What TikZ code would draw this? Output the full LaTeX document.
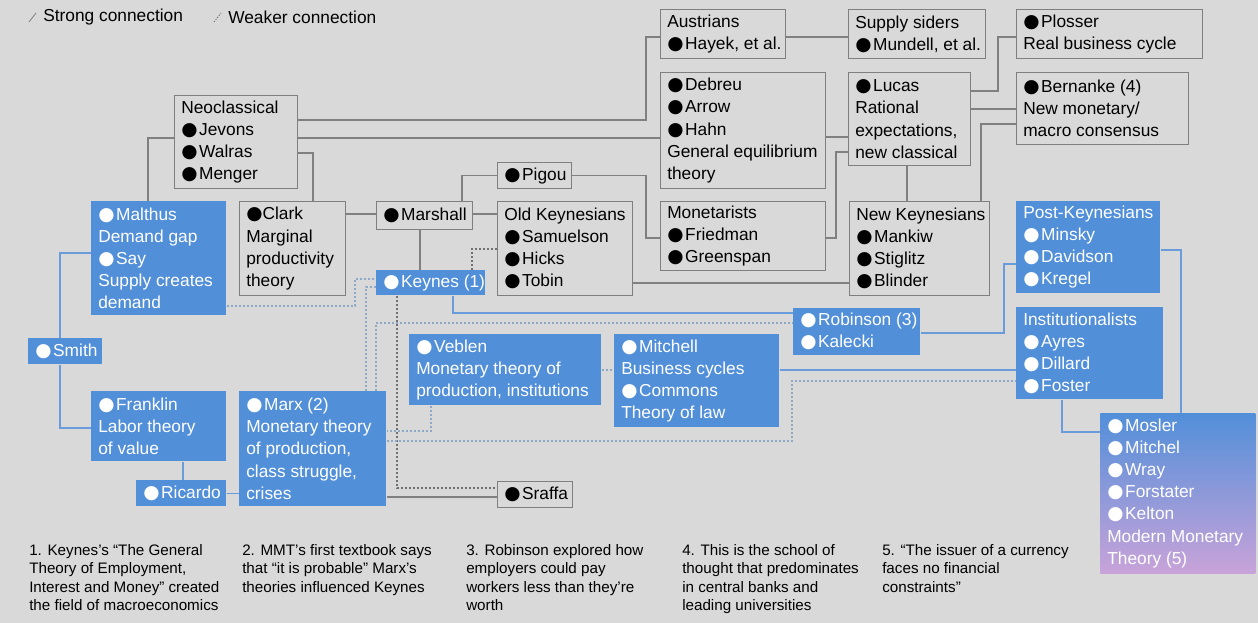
\documentclass[tikz,border=0pt]{standalone}
\usepackage{fontspec}
\setmainfont{Liberation Sans}
\newfontfamily\dvfont{DejaVu Sans}
\usetikzlibrary{backgrounds}
\definecolor{bg}{HTML}{D9D9D9}
\definecolor{bord}{HTML}{7F7F7F}
\definecolor{glc}{HTML}{808080}
\definecolor{bbox}{HTML}{528FD9}
\definecolor{bln}{HTML}{6A9BDA}
\definecolor{wbl}{HTML}{8EA8C8}
\definecolor{wgr}{HTML}{707070}
\definecolor{mtop}{HTML}{528FD9}
\definecolor{mbot}{HTML}{C8A3D9}
\newcommand\bulc{{\dvfont\fontsize{14}{0}\selectfont ●}}
\newcommand\bul{\bulc\hspace{1.2pt}}
\tikzset{
 gb/.style={draw=bord, line width=0.9pt, fill=bg, inner sep=0},
 bb/.style={fill=bbox, inner sep=0},
 mb/.style={top color=mtop, bottom color=mbot, inner sep=0},
 txt/.style={align=left, inner sep=0, font=\fontsize{13}{16.6}\selectfont},
 wtxt/.style={txt, text=white},
 strong/.style={draw=glc, line width=0.9pt},
 bluel/.style={draw=bln, line width=0.8pt},
 weakb/.style={draw=wbl, line width=0.8pt, dash pattern=on 1.5pt off 1.5pt},
 weakg/.style={draw=wgr, line width=0.8pt, dash pattern=on 1.5pt off 1.5pt},
 note/.style={align=left, inner sep=0, anchor=north west, font=\fontsize{11.4}{13.8}\selectfont},
}
\newcommand\gbx[6]{%
  \node[gb,minimum width={#4*0.75pt},minimum height={#5*0.75pt},anchor=north west] (#1) at (#2,#3) {};
  \node[txt,anchor=west] (#1t) at ([xshift=5.25pt]#1.west) {#6};}
\newcommand\bbx[6]{%
  \node[bb,minimum width={#4*0.75pt},minimum height={#5*0.75pt},anchor=north west] (#1) at (#2,#3) {};
  \node[wtxt,anchor=west] (#1t) at ([xshift=5.25pt]#1.west) {#6};}
\begin{document}
\begin{tikzpicture}[x=0.75pt,y=-0.75pt]
\useasboundingbox (0,0) rectangle (1258,623);
% boxes
\gbx{aus}{660}{9}{125}{49}{Austrians\\\bul Hayek, et al.}
\gbx{sup}{848}{9}{137}{49}{Supply siders\\\bul Mundell, et al.}
\gbx{plo}{1016}{9}{186}{49}{\bul Plosser\\Real business cycle}
\gbx{neo}{174}{95}{123}{93}{Neoclassical\\\bul Jevons\\\bul Walras\\\bul Menger}
\gbx{deb}{660}{72}{165}{116}{\bul Debreu\\\bul Arrow\\\bul Hahn\\General equilibrium\\theory}
\gbx{luc}{848}{72}{122}{93}{\bul Lucas\\Rational\\expectations,\\new classical}
\gbx{ber}{1016}{72}{172}{72}{\bul Bernanke (4)\\New monetary/\\macro consensus}
\gbx{pig}{497}{162}{74}{26}{\bul Pigou}
\gbx{mar}{376}{201}{96}{28}{\bul Marshall}
\gbx{old}{497}{201}{135}{94}{Old Keynesians\\\bul Samuelson\\\bul Hicks\\\bul Tobin}
\gbx{mon}{660}{201}{165}{69}{Monetarists\\\bul Friedman\\\bul Greenspan}
\gbx{nk}{849}{201}{140}{94}{New Keynesians\\\bul Mankiw\\\bul Stiglitz\\\bul Blinder}
\gbx{cla}{239}{201}{106}{94}{\bulc Clark\\Marginal\\productivity\\theory}
\bbx{mal}{91}{201}{135}{114}{\bul Malthus\\Demand gap\\\bul Say\\Supply creates\\demand}
\bbx{pk}{1016}{201}{144}{92}{Post-Keynesians\\\bul Minsky\\\bul Davidson\\\bul Kregel}
\bbx{key}{376}{270}{109}{25}{\bul Keynes (1)}
\bbx{smi}{28}{338}{74}{26}{\bul Smith}
\bbx{rob}{793}{308}{127}{47}{\bul Robinson (3)\\\bul Kalecki}
\bbx{ins}{1016}{307}{147}{92}{Institutionalists\\\bul Ayres\\\bul Dillard\\\bul Foster}
\bbx{veb}{409}{334}{192}{71}{\bul Veblen\\Monetary theory of\\production, institutions}
\bbx{mit}{614}{334}{165}{93}{\bul Mitchell\\Business cycles\\\bul Commons\\Theory of law}
\bbx{fra}{91}{391}{135}{70}{\bul Franklin\\Labor theory\\of value}
\bbx{marx}{239}{391}{147}{115}{\bul Marx (2)\\Monetary theory\\of production,\\class struggle,\\crises}
\bbx{ric}{136}{480}{90}{26}{\bul Ricardo}
\gbx{sra}{497}{481}{75}{26}{\bul Sraffa}
\node[mb,minimum width={155*0.75pt},minimum height={160*0.75pt},anchor=north west] (mmt) at (1100,413) {};
\node[wtxt,anchor=west] (mmtt) at ([xshift=5.25pt]mmt.west) {\bul Mosler\\\bul Mitchel\\\bul Wray\\\bul Forstater\\\bul Kelton\\Modern Monetary\\Theory (5)};
% legend and notes
\node[txt,anchor=west] (legs) at (43,17) {Strong connection};
\node[txt,anchor=west] (legw) at (228,17) {Weaker connection};
\node[note] (fn1) at (29,544) {1. Keynes’s “The General\\Theory of Employment,\\Interest and Money” created\\the field of macroeconomics};
\node[note] (fn2) at (242,544) {2. MMT’s first textbook says\\that “it is probable” Marx’s\\theories influenced Keynes};
\node[note] (fn3) at (466,544) {3. Robinson explored how\\employers could pay\\workers less than they’re\\worth};
\node[note] (fn4) at (682,544) {4. This is the school of\\thought that predominates\\in central banks and\\leading universities};
\node[note] (fn5) at (882,544) {5. “The issuer of a currency\\faces no financial\\constraints”};
\begin{scope}[on background layer]
\fill[bg] (0,0) rectangle (1258,623);
\draw[glc, line width=0.6pt] (29,22) -- (36,13);
\draw[wgr, line width=0.6pt, dash pattern=on 1pt off 1pt] (214,22) -- (221,13);
% strong gray
\draw[strong] (neo.west |- 0,138) -| (mal.north -| 148,0);
\draw[strong] (neo.east |- 0,120) -| (646,37) -- (aus.west |- 0,37);
\draw[strong] (neo.east |- 0,138) -- (deb.west |- 0,138);
\draw[strong] (neo.east |- 0,153) -| (cla.north -| 313,0);
\draw[strong] (cla.east |- 0,214) -- (mar.west |- 0,214);
\draw[strong] (mar.north -| 462,0) |- (pig.west);
\draw[strong] (pig.east) -| (646,238) -- (mon.west |- 0,238);
\draw[strong] (mar.east |- 0,214) -- (old.west |- 0,214);
\draw[strong] (mar.south -| 420,0) -- (key.north -| 420,0);
\draw[strong] (old.east |- 0,283) -- (nk.west |- 0,283);
\draw[strong] (deb.east |- 0,137) -- (luc.west |- 0,137);
\draw[strong] (mon.east |- 0,238) -| (836,152) -- (luc.west |- 0,152);
\draw[strong] (luc.south -| 907,0) -- (nk.north -| 907,0);
\draw[strong] (luc.east |- 0,91) -| (998,37) -- (plo.west |- 0,37);
\draw[strong] (aus.east |- 0,37) -- (sup.west |- 0,37);
\draw[strong] (luc.east |- 0,109) -- (ber.west |- 0,109);
\draw[strong] (ber.west |- 0,124) -| (nk.north -| 981,0);
\draw[strong] (marx.east |- 0,497) -- (sra.west |- 0,497);
% strong blue
\draw[bluel] (mal.west |- 0,253) -| (smi.north -| 60,0);
\draw[bluel] (smi.south -| 60,0) |- (fra.west |- 0,428);
\draw[bluel] (fra.south -| 183,0) -- (ric.north -| 183,0);
\draw[bluel] (ric.east) -- (marx.west |- ric.east);
\draw[bluel] (key.south -| 453,0) |- (rob.west |- 0,313);
\draw[bluel] (rob.east |- 0,333) -| (1004,264) -- (pk.west |- 0,264);
\draw[bluel] (mit.east |- 0,370) -- (ins.west |- 0,370);
\draw[bluel] (pk.east |- 0,250) -| (mmt.north -| 1181,0);
\draw[bluel] (ins.south -| 1062,0) |- (mmt.west |- 0,432);
% weak
\draw[weakb] (mal.east |- 0,306) -| (355,279) -- (key.west |- 0,279);
\draw[weakb] (key.west |- 0,287) -| (marx.north -| 366,0);
\draw[weakg] (key.south -| 397,0) |- (sra.west |- 0,488);
\draw[weakg] (key.north -| 472,0) |- (old.west |- 0,249);
\draw[weakb] (marx.north -| 376,0) |- (rob.west |- 0,323);
\draw[weakb] (veb.south -| 431,0) |- (marx.east |- 0,431);
\draw[weakb] (veb.east |- 0,370) -- (mit.west |- 0,370);
\draw[weakb] (marx.east |- 0,441) -| (792,381) -- (ins.west |- 0,381);
\end{scope}
\end{tikzpicture}
\end{document}
